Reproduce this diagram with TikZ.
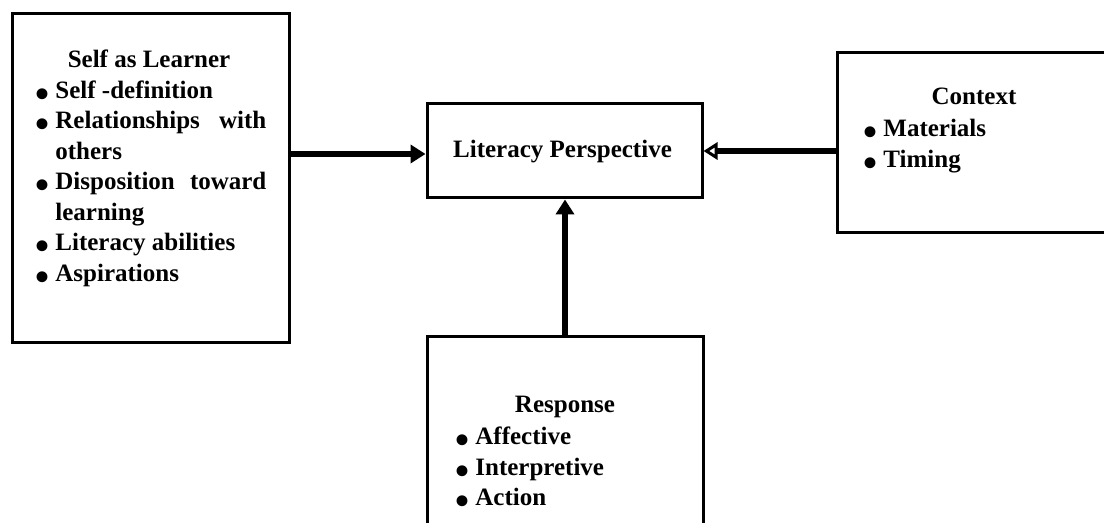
\documentclass[tikz,border=0pt]{standalone}
\usepackage{fontspec}
\setmainfont{Liberation Serif}
\usetikzlibrary{arrows.meta}
\newcommand\bul{\llap{\smash{\raisebox{-4.4pt}{\fontsize{20}{15}\selectfont\textbullet}}\hspace{3pt}}}
\begin{document}
\begin{tikzpicture}[x=0.5pt,y=-0.5pt,
  box/.style={draw, line width=1.5pt, inner sep=0pt},
  ttl/.style={font=\bfseries\fontsize{12.5}{15}\selectfont, inner sep=0pt, anchor=base},
  itm/.style={font=\bfseries\fontsize{12.5}{15}\selectfont, inner sep=0pt, anchor=base west},
  arr/.style={line width=3pt, -{Triangle[length=7.5pt,width=9pt]}},
  oarr/.style={line width=3pt, -{Triangle[open,length=7pt,width=8.5pt,line width=1.5pt]}},
]
\clip (0,0) rectangle (1104,523);
% boxes
\node[box, minimum width=138.5pt, minimum height=164.5pt] (self) at (150.5,178.5) {};
\node[box, minimum width=137.5pt, minimum height=47pt] (lit) at (564.5,151) {};
\node[box, minimum width=138.5pt, minimum height=90pt] (ctx) at (975.5,143) {};
\node[box, minimum width=138pt, minimum height=141.5pt] (resp) at (565,478.5) {};
% Self as Learner
\node[ttl] (selft) at (149,68) {Self as Learner};
\node[itm] (s1) at (55,98.5) {\bul Self -definition};
\node[itm] (s2) at (55,129) {\bul\hbox to 105.5pt{Relationships\hfill with}};
\node[itm] (s3) at (55,159.5) {others};
\node[itm] (s4) at (55,190) {\bul\hbox to 105.5pt{Disposition\hfill toward}};
\node[itm] (s5) at (55,220.5) {learning};
\node[itm] (s6) at (55,251) {\bul Literacy abilities};
\node[itm] (s7) at (55,281.5) {\bul Aspirations};
% Literacy Perspective
\node[ttl] (litt) at (562.5,158) {Literacy Perspective};
% Context
\node[ttl] (ctxt) at (974,105) {Context};
\node[itm] (c1) at (883,137) {\bul Materials};
\node[itm] (c2) at (883,168) {\bul Timing};
% Response
\node[ttl] (respt) at (565,413) {Response};
\node[itm] (r1) at (475,445) {\bul Affective};
\node[itm] (r2) at (475,475.5) {\bul Interpretive};
\node[itm] (r3) at (475,506) {\bul Action};
% connectors
\coordinate (la) at ([yshift=-1.5pt]lit.west);
\draw[arr] (self.east |- la) -- (la);
\draw[oarr] (ctx.west |- lit.east) -- (lit.east);
\draw[arr] (resp.north) -- (resp.north |- lit.south);
\end{tikzpicture}
\end{document}
